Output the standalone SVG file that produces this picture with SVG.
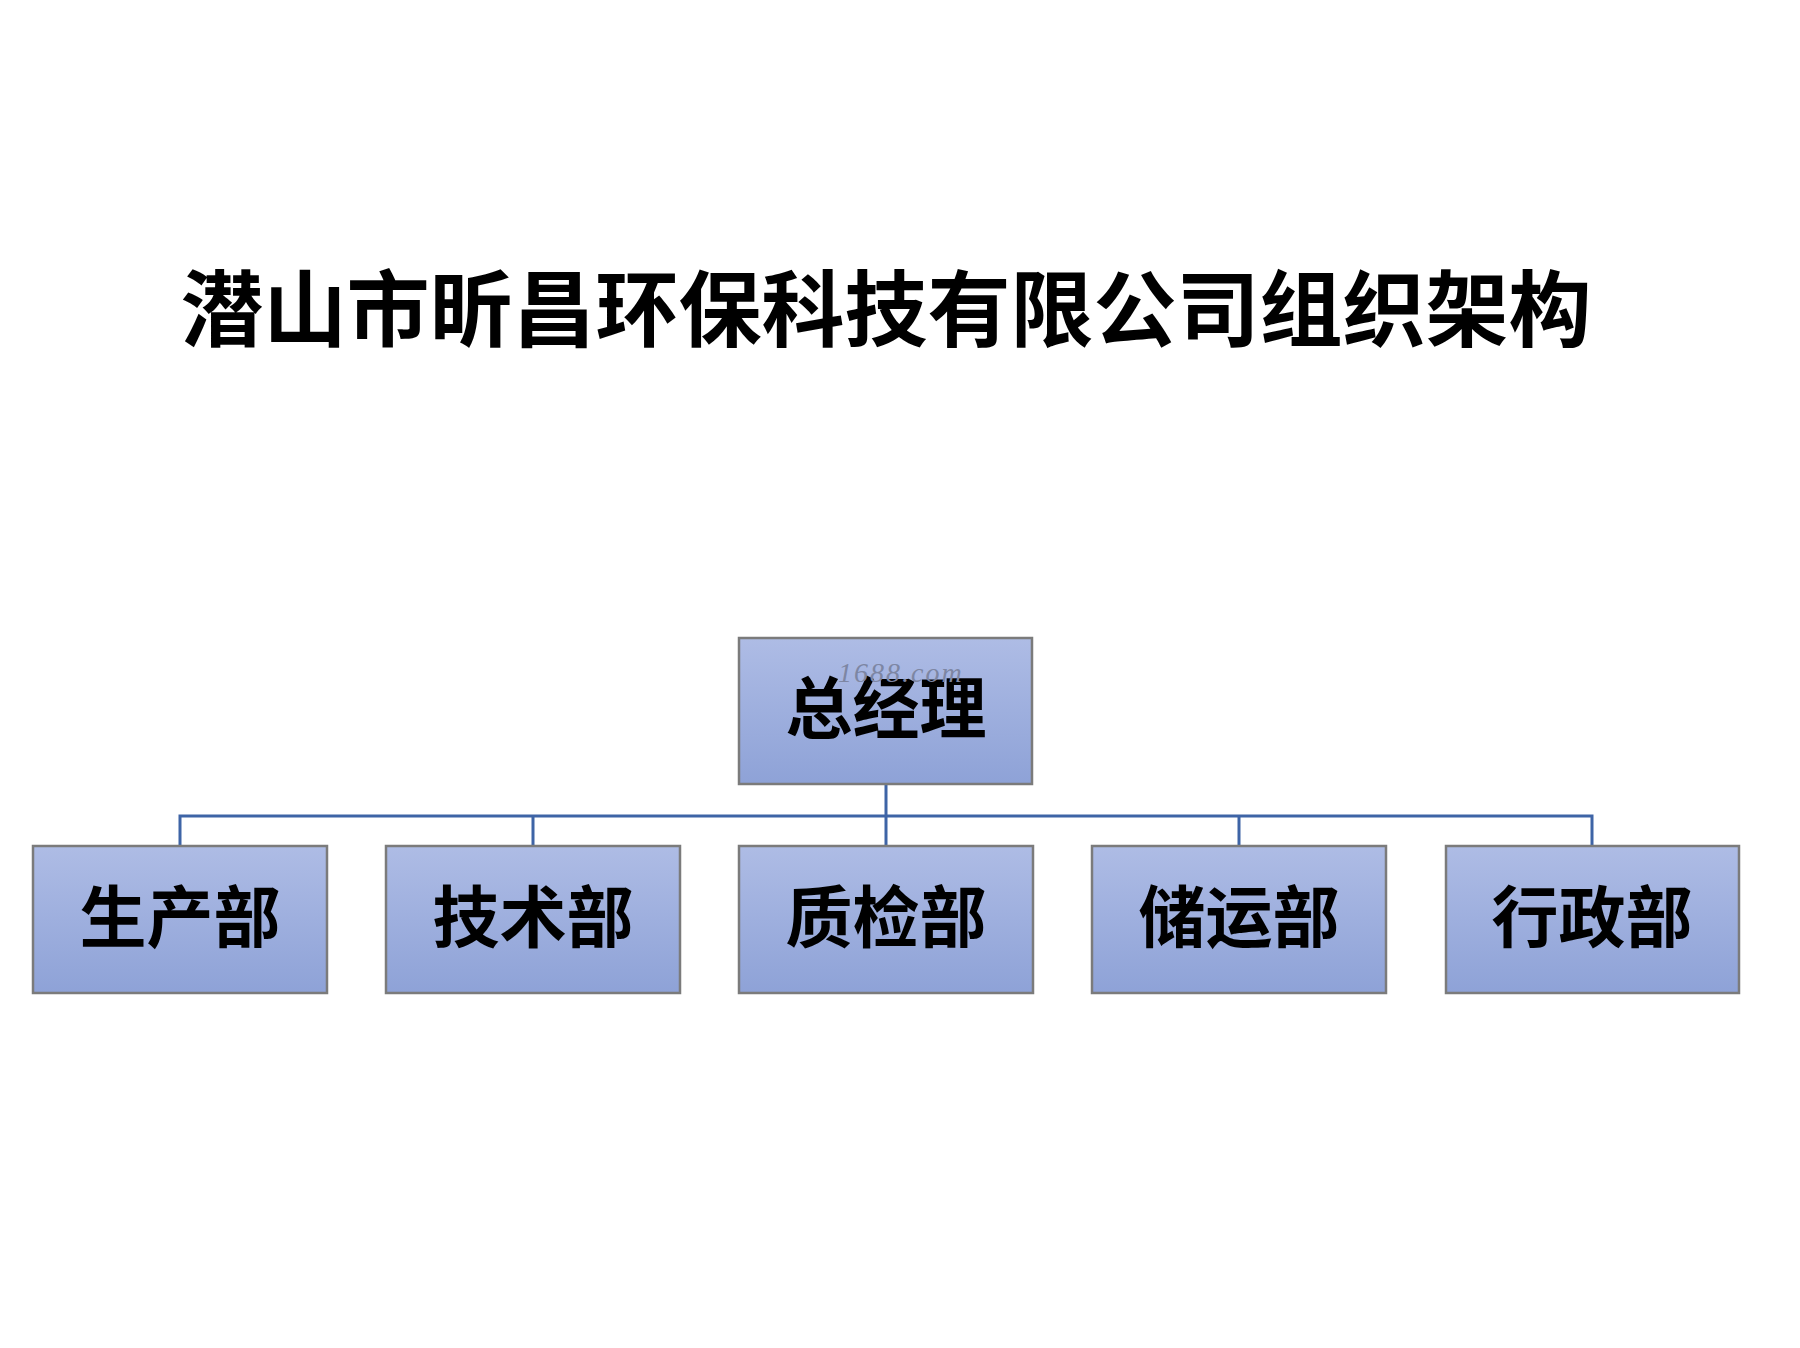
<svg xmlns="http://www.w3.org/2000/svg" width="1800" height="1348" viewBox="0 0 1800 1348">
<defs>
<linearGradient id="boxg" x1="0" y1="0" x2="0" y2="1">
<stop offset="0" stop-color="#aebce5"/>
<stop offset="1" stop-color="#8ea2d7"/>
</linearGradient>
<style>
.box{fill:url(#boxg);stroke:#7b7b7b;stroke-width:2.5}
.lbl{font-family:"Noto Sans CJK SC","Noto Sans CJK JP",sans-serif;font-weight:bold;font-size:67px;fill:#000;text-anchor:middle}
.title{font-family:"Noto Sans CJK SC","Noto Sans CJK JP",sans-serif;font-weight:bold;font-size:83px;fill:#000;text-anchor:middle}
.conn{fill:none;stroke:#3e64a6;stroke-width:3}
.wm{font-family:"Liberation Serif",serif;font-style:italic;font-size:28px;fill:#7d86a3;letter-spacing:2px}
</style>
</defs>
<rect width="1800" height="1348" fill="#ffffff"/>
<text class="title" x="886" y="340">潜山市昕昌环保科技有限公司组织架构</text>
<g id="connectors">
<path class="conn" d="M886 784 V846 M180 846 V816 H1592 V846 M533 816 V846 M1239 816 V846"/>
</g>
<g id="n-gm">
<rect class="box" x="739" y="638" width="293" height="146"/>
<text class="lbl" x="886" y="733">总经理</text>
</g>
<g id="n-prod">
<rect class="box" x="33" y="846" width="294" height="147"/>
<text class="lbl" x="180" y="942">生产部</text>
</g>
<g id="n-tech">
<rect class="box" x="386" y="846" width="294" height="147"/>
<text class="lbl" x="533" y="942">技术部</text>
</g>
<g id="n-qc">
<rect class="box" x="739" y="846" width="294" height="147"/>
<text class="lbl" x="886" y="942">质检部</text>
</g>
<g id="n-log">
<rect class="box" x="1092" y="846" width="294" height="147"/>
<text class="lbl" x="1239" y="942">储运部</text>
</g>
<g id="n-admin">
<rect class="box" x="1446" y="846" width="293" height="147"/>
<text class="lbl" x="1592" y="942">行政部</text>
</g>
<text class="wm" x="838" y="682">1688.com</text>
</svg>
